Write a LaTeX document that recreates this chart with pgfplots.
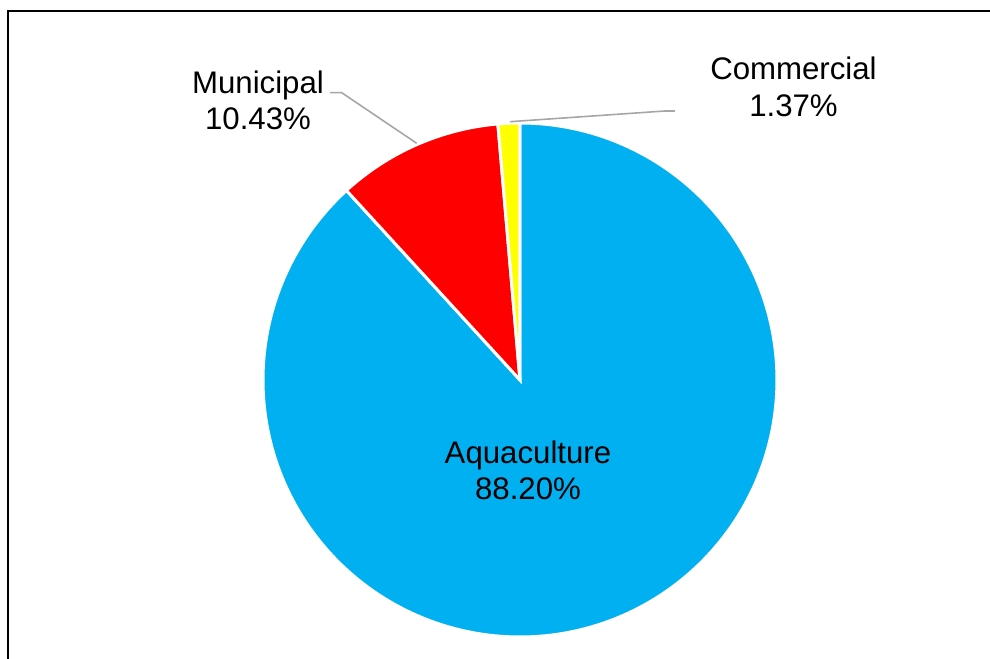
\documentclass[border=0pt]{standalone}
\usepackage{pgfplots}
\pgfplotsset{compat=1.18}
\usepackage{fontspec}
\setmainfont{Liberation Sans}
\definecolor{aqua}{HTML}{00B0F0}
\definecolor{mred}{HTML}{FF0000}
\definecolor{myel}{HTML}{FFFF00}
\definecolor{lead}{HTML}{A6A6A6}
\begin{document}
\begin{tikzpicture}
\useasboundingbox (0,0) rectangle (495bp,329.5bp);
\begin{axis}[at={(0,0)}, anchor=origin, scale only axis,
  width=495bp, height=329.5bp,
  xmin=0, xmax=990, ymin=0, ymax=659,
  hide axis, clip=false]
% slices: Aquaculture 88.20, Municipal 10.43, Commercial 1.37 (percent, clockwise from top)
\addplot[fill=aqua, draw=white, line width=1.5bp, domain=0:88.20, samples=300]
  ({520+257*cos(90-3.6*x)},{279+257*sin(90-3.6*x)}) -- (axis cs:520,279) -- cycle;
\addplot[fill=mred, draw=white, line width=1.5bp, domain=88.20:98.63, samples=60]
  ({520+257*cos(90-3.6*x)},{279+257*sin(90-3.6*x)}) -- (axis cs:520,279) -- cycle;
\addplot[fill=myel, draw=white, line width=1.5bp, domain=98.63:100, samples=15]
  ({520+257*cos(90-3.6*x)},{279+257*sin(90-3.6*x)}) -- (axis cs:520,279) -- cycle;
% leader lines
\draw[lead, line width=0.8bp] (axis cs:330,566.3) -- (axis cs:341.7,566.3) -- (axis cs:416.7,515.7);
\draw[lead, line width=0.8bp] (axis cs:675,548) -- (axis cs:665,548) -- (axis cs:510,537.3);
% labels
\tikzset{lab/.style={anchor=base, inner sep=0pt, font=\fontsize{15.6bp}{18bp}\selectfont}}
\node[lab] at (axis cs:528,195.7) {Aquaculture};
\node[lab] at (axis cs:528,159) {88.20\%};
\node[lab] at (axis cs:258,565.7) {Municipal};
\node[lab] at (axis cs:258,529) {10.43\%};
\node[lab] at (axis cs:793.5,579) {Commercial};
\node[lab] at (axis cs:793.5,542.3) {1.37\%};
% chart frame (cropped at right and bottom)
\draw[black, line width=1bp] (axis cs:8,-20) -- (axis cs:8,648) -- (axis cs:1010,648);
\end{axis}
\end{tikzpicture}
\end{document}
